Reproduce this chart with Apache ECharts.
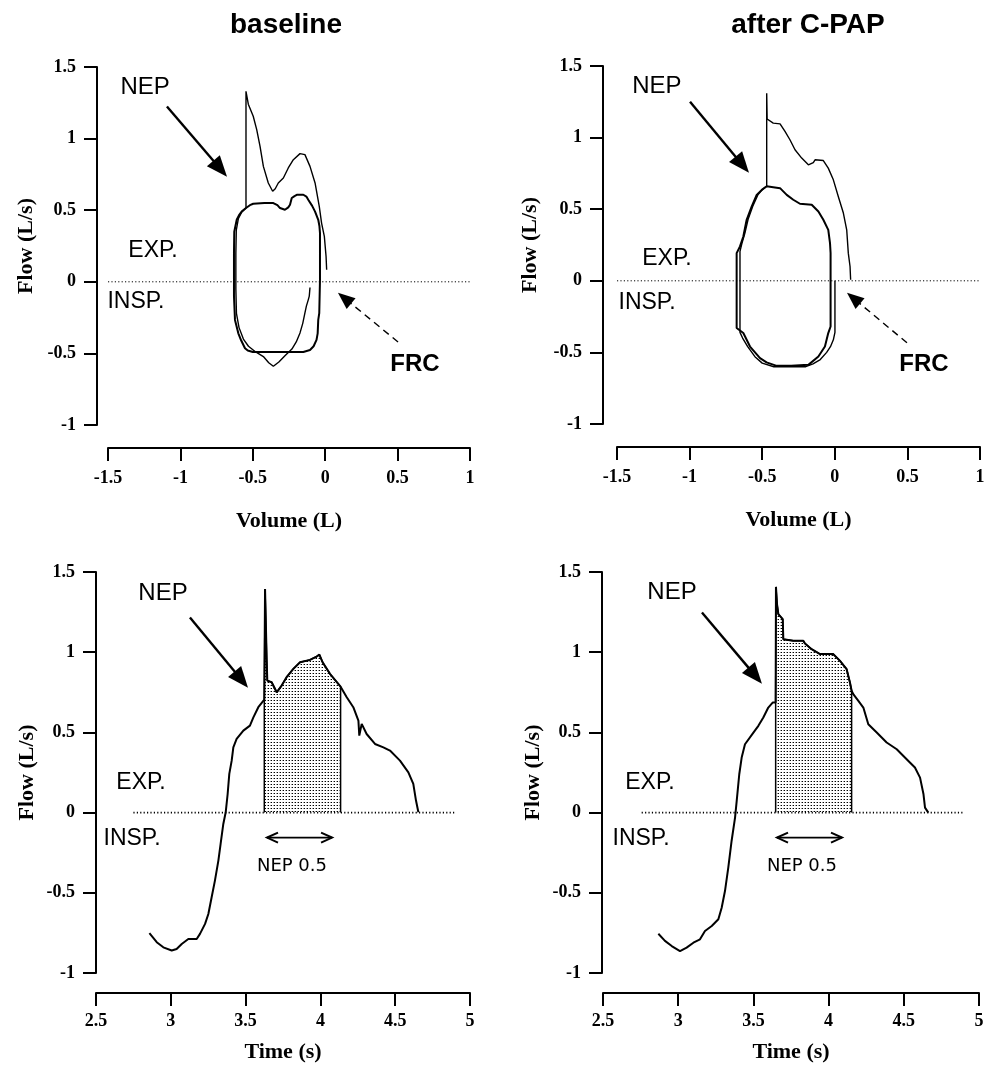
<!DOCTYPE html>
<html>
<head>
<meta charset="utf-8">
<title>NEP flow-volume and flow-time</title>
<script src="https://cdn.jsdelivr.net/npm/echarts@6/dist/echarts.min.js"></script>
<style>
  html, body { margin: 0; padding: 0; background: #fff; }
  #main { width: 993px; height: 1069px; }
</style>
</head>
<body>
<div id="main"></div>
<script>
// ---- data ----
var panelTitles = ["baseline", "after C-PAP"];
var volumeRange = [-1.5, 1];
var flowRange = [-1, 1.5];
var timeRange = [2.5, 5];
var tickStep = 0.5;

// baseline, flow-volume: control breath loop  [volume L, flow L/s]
var baseCtrlLoop = [
  [-0.547, 0.515], [-0.52, 0.535], [-0.497, 0.545], [-0.42, 0.55], [-0.358, 0.55], [-0.33, 0.535],
  [-0.312, 0.515], [-0.278, 0.503], [-0.255, 0.52], [-0.243, 0.538], [-0.231, 0.585], [-0.212, 0.598],
  [-0.193, 0.608], [-0.151, 0.608], [-0.13, 0.595], [-0.117, 0.573], [-0.09, 0.53], [-0.07, 0.49],
  [-0.048, 0.433], [-0.04, 0.39], [-0.036, 0.34], [-0.036, 0.17], [-0.036, 0.014], [-0.041, -0.219],
  [-0.048, -0.266], [-0.052, -0.36], [-0.06, -0.406], [-0.08, -0.45], [-0.105, -0.476], [-0.151, -0.49],
  [-0.27, -0.49], [-0.4, -0.49], [-0.5, -0.49], [-0.535, -0.48], [-0.554, -0.464], [-0.58, -0.41],
  [-0.6, -0.36], [-0.623, -0.266], [-0.63, -0.1], [-0.63, 0.2], [-0.628, 0.35], [-0.611, 0.433],
  [-0.595, 0.465], [-0.577, 0.49], [-0.547, 0.515]
];
// baseline, flow-volume: breath with NEP applied
var baseNepBreath = [
  [-0.105, -0.04], [-0.11, -0.1], [-0.117, -0.126], [-0.13, -0.17], [-0.14, -0.217], [-0.155, -0.29],
  [-0.174, -0.357], [-0.2, -0.42], [-0.23, -0.47], [-0.278, -0.517], [-0.32, -0.56], [-0.358, -0.59],
  [-0.39, -0.565], [-0.427, -0.522], [-0.48, -0.49], [-0.53, -0.45], [-0.565, -0.4], [-0.595, -0.32],
  [-0.613, -0.22], [-0.617, -0.05], [-0.617, 0.2], [-0.614, 0.36], [-0.6, 0.44], [-0.575, 0.49],
  [-0.547, 0.515], [-0.547, 1.33], [-0.531, 1.24], [-0.497, 1.156], [-0.473, 1.063], [-0.45, 0.946],
  [-0.427, 0.806], [-0.393, 0.69], [-0.363, 0.632], [-0.345, 0.65], [-0.324, 0.69], [-0.289, 0.725],
  [-0.255, 0.795], [-0.22, 0.853], [-0.174, 0.895], [-0.14, 0.888], [-0.105, 0.806], [-0.07, 0.69],
  [-0.041, 0.527], [-0.025, 0.41], [-0.006, 0.317], [0.006, 0.177], [0.01, 0.084]
];

// after C-PAP, flow-volume
var cpapCtrlLoop = [
  [-0.469, 0.66], [-0.424, 0.654], [-0.377, 0.647], [-0.331, 0.6], [-0.286, 0.566], [-0.24, 0.538],
  [-0.2, 0.535], [-0.159, 0.531], [-0.113, 0.484], [-0.079, 0.426], [-0.045, 0.356], [-0.033, 0.263],
  [-0.029, 0.193], [-0.029, 0.007], [-0.029, -0.319], [-0.045, -0.365], [-0.068, -0.459], [-0.113, -0.529],
  [-0.182, -0.587], [-0.3, -0.594], [-0.4, -0.594], [-0.47, -0.57], [-0.515, -0.54], [-0.584, -0.459],
  [-0.63, -0.365], [-0.676, -0.33], [-0.676, 0.193], [-0.653, 0.24], [-0.63, 0.309], [-0.607, 0.426],
  [-0.572, 0.519], [-0.538, 0.6], [-0.503, 0.635], [-0.469, 0.66]
];
var cpapNepBreath = [
  [0.001, 0.0], [0.001, -0.36], [-0.01, -0.412], [-0.03, -0.46], [-0.056, -0.5], [-0.1, -0.55],
  [-0.15, -0.58], [-0.2, -0.6], [-0.3, -0.6], [-0.42, -0.6], [-0.5, -0.575], [-0.55, -0.53],
  [-0.6, -0.46], [-0.635, -0.4], [-0.653, -0.36], [-0.653, 0.205], [-0.64, 0.26], [-0.62, 0.33],
  [-0.597, 0.43], [-0.565, 0.52], [-0.53, 0.6], [-0.495, 0.64], [-0.469, 0.66], [-0.469, 1.31],
  [-0.466, 1.13], [-0.458, 1.124], [-0.424, 1.101], [-0.377, 1.096], [-0.343, 1.043], [-0.309, 0.985],
  [-0.274, 0.915], [-0.228, 0.857], [-0.182, 0.81], [-0.148, 0.826], [-0.136, 0.845], [-0.079, 0.84],
  [-0.045, 0.787], [-0.01, 0.705], [0.024, 0.589], [0.059, 0.473], [0.082, 0.356], [0.093, 0.193],
  [0.105, 0.1], [0.109, 0.007]
];

// flow-time traces [time s, flow L/s]
var baseTrace = [
  [2.857, -0.752], [2.906, -0.808], [2.95, -0.84], [3.006, -0.86], [3.039, -0.85], [3.073, -0.819],
  [3.117, -0.788], [3.173, -0.788], [3.195, -0.756], [3.229, -0.694], [3.251, -0.632], [3.273, -0.528],
  [3.295, -0.424], [3.318, -0.299], [3.333, -0.195], [3.351, -0.071], [3.367, 0.002], [3.38, 0.116],
  [3.391, 0.241], [3.407, 0.324], [3.418, 0.407], [3.44, 0.459], [3.485, 0.511], [3.529, 0.542],
  [3.552, 0.594], [3.585, 0.657], [3.625, 0.705], [3.63, 1.394], [3.641, 0.948], [3.645, 0.823],
  [3.674, 0.813], [3.708, 0.75], [3.741, 0.792], [3.774, 0.844], [3.819, 0.896], [3.864, 0.937],
  [3.93, 0.952], [3.975, 0.973], [3.993, 0.985], [4.015, 0.937], [4.064, 0.865], [4.135, 0.785],
  [4.176, 0.719], [4.22, 0.657], [4.254, 0.574], [4.26, 0.48], [4.276, 0.553], [4.309, 0.49],
  [4.365, 0.428], [4.421, 0.407], [4.465, 0.387], [4.532, 0.324], [4.588, 0.251], [4.621, 0.179],
  [4.639, 0.075], [4.655, 0.002]
];
var cpapTrace = [
  [2.868, -0.755], [2.912, -0.8], [2.957, -0.832], [3.012, -0.863], [3.056, -0.842], [3.101, -0.811],
  [3.145, -0.79], [3.178, -0.738], [3.223, -0.707], [3.267, -0.665], [3.289, -0.593], [3.311, -0.489],
  [3.333, -0.343], [3.355, -0.177], [3.378, -0.031], [3.389, 0.073], [3.406, 0.239], [3.422, 0.343],
  [3.444, 0.426], [3.5, 0.499], [3.533, 0.541], [3.566, 0.593], [3.599, 0.655], [3.628, 0.686],
  [3.648, 0.686], [3.65, 1.407], [3.657, 1.3], [3.666, 1.237], [3.695, 1.206], [3.699, 1.081],
  [3.765, 1.071], [3.832, 1.071], [3.843, 1.054], [3.887, 1.019], [3.943, 0.988], [4.031, 0.988],
  [4.076, 0.946], [4.12, 0.894], [4.142, 0.811], [4.153, 0.76], [4.164, 0.738], [4.198, 0.696],
  [4.231, 0.655], [4.264, 0.551], [4.32, 0.499], [4.386, 0.437], [4.453, 0.395], [4.519, 0.333],
  [4.574, 0.281], [4.608, 0.218], [4.631, 0.114], [4.641, 0.031], [4.663, 0]
];
// NEP 0.5 s window that is shaded
var baseNepWindow = [3.625, 4.135];
var cpapNepWindow = [3.648, 4.153];
// extent of the dotted zero-flow lines
var loopZeroLine = [-1.5, 1];
var baseZeroLine = [2.75, 4.9];
var cpapZeroLine = [2.757, 4.896];

// ---- styles ----
var serif = '"Liberation Serif", "Times New Roman", serif';
var sans = '"Liberation Sans", Arial, sans-serif';

// little dotted tile for the NEP area
var tile = document.createElement("canvas");
tile.width = 3;
tile.height = 3;
var tctx = tile.getContext("2d");
tctx.fillStyle = "#fff";
tctx.fillRect(0, 0, 3, 3);
tctx.fillStyle = "#000";
tctx.fillRect(1, 1, 1, 1);
tctx.fillStyle = "#999";
tctx.fillRect(0, 1, 1, 1);

function xAxisOf(i, range, name, offset, nameGap, margin) {
  return {
    type: "value", gridIndex: i, min: range[0], max: range[1], interval: tickStep,
    offset: offset, name: name, nameLocation: "middle", nameGap: nameGap,
    nameTextStyle: { fontFamily: serif, fontWeight: "bold", fontSize: 22, color: "#000" },
    axisLine: { onZero: false, lineStyle: { color: "#000", width: 2 } },
    axisTick: { length: 13, lineStyle: { color: "#000", width: 2 } },
    axisLabel: { margin: margin, fontFamily: serif, fontWeight: "bold", fontSize: 18, color: "#000" },
    splitLine: { show: false }
  };
}
function yAxisOf(i, offset, nameGap) {
  return {
    type: "value", gridIndex: i, min: flowRange[0], max: flowRange[1], interval: tickStep,
    offset: offset, name: "Flow (L/s)", nameLocation: "middle", nameGap: nameGap,
    nameTextStyle: { fontFamily: serif, fontWeight: "bold", fontSize: 22, color: "#000" },
    axisLine: { onZero: false, lineStyle: { color: "#000", width: 2 } },
    axisTick: { length: 13, lineStyle: { color: "#000", width: 2 } },
    axisLabel: { margin: 21, fontFamily: serif, fontWeight: "bold", fontSize: 18, color: "#000" },
    splitLine: { show: false }
  };
}
function curve(i, data, width) {
  return {
    type: "line", xAxisIndex: i, yAxisIndex: i, data: data, symbol: "none",
    lineStyle: { color: "#000", width: width }, z: 3
  };
}
function zeroLine(i, ext, width) {
  return {
    type: "line", xAxisIndex: i, yAxisIndex: i, data: [[ext[0], 0], [ext[1], 0]], symbol: "none",
    lineStyle: { color: "#000", width: width, type: [1.2, 2.2] }, z: 2
  };
}
function shade(i, trace, win) {
  var pts = trace.filter(function (p) { return p[0] >= win[0] && p[0] <= win[1]; });
  var data = [[win[0], 0]].concat(pts, [[win[1], 0]]);
  return {
    type: "line", xAxisIndex: i, yAxisIndex: i, data: data, symbol: "none",
    lineStyle: { color: "#000", width: 1.5 },
    areaStyle: { color: { image: tile, repeat: "repeat" }, opacity: 1 }, z: 2
  };
}

var chart = echarts.init(document.getElementById("main"));
var option = {
  animation: false,
  backgroundColor: "#fff",
  grid: [
    { left: 108, top: 67, width: 362, height: 358 },
    { left: 617, top: 66, width: 363, height: 358 },
    { left: 96, top: 572, width: 374, height: 401 },
    { left: 603, top: 572, width: 376, height: 401 }
  ],
  xAxis: [
    xAxisOf(0, volumeRange, "Volume (L)", 23, 62, 21),
    xAxisOf(1, volumeRange, "Volume (L)", 23, 62, 21),
    xAxisOf(2, timeRange, "Time (s)", 20, 48, 19),
    xAxisOf(3, timeRange, "Time (s)", 20, 48, 19)
  ],
  yAxis: [yAxisOf(0, 11, 60), yAxisOf(1, 14, 62), yAxisOf(2, 0, 58), yAxisOf(3, 1, 58)],
  series: [
    zeroLine(0, loopZeroLine, 1),
    curve(0, baseCtrlLoop, 2),
    curve(0, baseNepBreath, 1.4),
    zeroLine(1, loopZeroLine, 1),
    curve(1, cpapCtrlLoop, 2),
    curve(1, cpapNepBreath, 1.4),
    zeroLine(2, baseZeroLine, 1.6),
    shade(2, baseTrace, baseNepWindow),
    curve(2, baseTrace, 2),
    zeroLine(3, cpapZeroLine, 1.6),
    shade(3, cpapTrace, cpapNepWindow),
    curve(3, cpapTrace, 2)
  ]
};
chart.setOption(option);

// ---- annotations, placed in data units of each panel ----
var notes = [
  { nep: [-1.244, 1.357], nepArrow: [[-1.093, 1.224], [-0.678, 0.734]], exp: [-1.189, 0.217],
    insp: [-1.307, -0.14], frc: [0.62, -0.58], frcArrow: [[0.503, -0.42], [0.088, -0.077]] },
  { nep: [-1.225, 1.355], nepArrow: [[-0.997, 1.25], [-0.591, 0.754]], exp: [-1.156, 0.154],
    insp: [-1.293, -0.154], frc: [0.614, -0.587], frcArrow: [[0.497, -0.433], [0.084, -0.084]] },
  { nep: [2.948, 1.365], nepArrow: [[3.128, 1.216], [3.516, 0.779]], exp: [2.801, 0.187],
    insp: [2.741, -0.162], win: [3.81, -0.337], winArrow: [[3.643, -0.156], [4.078, -0.156]] },
  { nep: [2.959, 1.372], nepArrow: [[3.158, 1.247], [3.557, 0.804]], exp: [2.812, 0.187],
    insp: [2.753, -0.162], win: [3.823, -0.337], winArrow: [[3.657, -0.156], [4.089, -0.156]] }
];

function px(i, p) { return chart.convertToPixel({ gridIndex: i }, p); }
function label(p, txt, font) {
  return { type: "text", z: 10, style: { text: txt, x: p[0], y: p[1], font: font, fill: "#000",
    textAlign: "center", textVerticalAlign: "middle" } };
}
// straight arrow with a filled head
function arrow(a, b, width, headLen, headW, dash) {
  var dx = b[0] - a[0], dy = b[1] - a[1], L = Math.sqrt(dx * dx + dy * dy);
  var ux = dx / L, uy = dy / L, nx = -uy, ny = ux;
  var bx = b[0] - ux * headLen, by = b[1] - uy * headLen;
  return [
    { type: "line", z: 10, shape: { x1: a[0], y1: a[1], x2: bx + ux * 2, y2: by + uy * 2 },
      style: { stroke: "#000", lineWidth: width, lineDash: dash || null } },
    { type: "polygon", z: 10, shape: { points: [[b[0], b[1]], [bx + nx * headW / 2, by + ny * headW / 2],
      [bx - nx * headW / 2, by - ny * headW / 2]] }, style: { fill: "#000" } }
  ];
}
// double arrow with open heads
function doubleArrow(a, b) {
  var h = 11, w = 5;
  return [
    { type: "line", z: 10, shape: { x1: a[0], y1: a[1], x2: b[0], y2: b[1] }, style: { stroke: "#000", lineWidth: 1.6 } },
    { type: "polyline", z: 10, shape: { points: [[a[0] + h, a[1] - w], [a[0], a[1]], [a[0] + h, a[1] + w]] },
      style: { stroke: "#000", lineWidth: 2, fill: null } },
    { type: "polyline", z: 10, shape: { points: [[b[0] - h, b[1] - w], [b[0], b[1]], [b[0] - h, b[1] + w]] },
      style: { stroke: "#000", lineWidth: 2, fill: null } }
  ];
}

var els = [];
els.push(label([286, 25], panelTitles[0], "bold 28px " + sans));
els.push(label([808, 25], panelTitles[1], "bold 28px " + sans));
notes.forEach(function (n, i) {
  els.push(label(px(i, n.nep), "NEP", "24px " + sans));
  els = els.concat(arrow(px(i, n.nepArrow[0]), px(i, n.nepArrow[1]), 2.4, 21, 17));
  els.push(label(px(i, n.exp), "EXP.", "23px " + sans));
  els.push(label(px(i, n.insp), "INSP.", "23px " + sans));
  if (n.frc) {
    els.push(label(px(i, n.frc), "FRC", "bold 24px " + sans));
    els = els.concat(arrow(px(i, n.frcArrow[0]), px(i, n.frcArrow[1]), 1.4, 17, 14, [7, 5]));
  }
  if (n.win) {
    els.push(label(px(i, n.win), "NEP 0.5", '18px "DejaVu Sans", sans-serif'));
    els = els.concat(doubleArrow(px(i, n.winArrow[0]), px(i, n.winArrow[1])));
  }
});
chart.setOption({ graphic: els });
</script>
</body>
</html>
